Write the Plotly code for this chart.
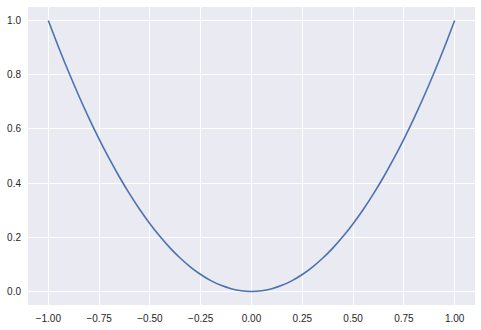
import plotly.graph_objects as go

x_vals = [-1.00, -0.95, -0.90, -0.85, -0.80, -0.75, -0.70, -0.65, -0.60, -0.55,
          -0.50, -0.45, -0.40, -0.35, -0.30, -0.25, -0.20, -0.15, -0.10, -0.05,
          0.00, 0.05, 0.10, 0.15, 0.20, 0.25, 0.30, 0.35, 0.40, 0.45,
          0.50, 0.55, 0.60, 0.65, 0.70, 0.75, 0.80, 0.85, 0.90, 0.95, 1.00]
y_vals = [1.000, 0.9025, 0.810, 0.7225, 0.640, 0.5625, 0.490, 0.4225, 0.360, 0.3025,
          0.250, 0.2025, 0.160, 0.1225, 0.090, 0.0625, 0.040, 0.0225, 0.010, 0.0025,
          0.000, 0.0025, 0.010, 0.0225, 0.040, 0.0625, 0.090, 0.1225, 0.160, 0.2025,
          0.250, 0.3025, 0.360, 0.4225, 0.490, 0.5625, 0.640, 0.7225, 0.810, 0.9025, 1.000]
x_ticks = [-1.00, -0.75, -0.50, -0.25, 0.00, 0.25, 0.50, 0.75, 1.00]
y_ticks = [0.0, 0.2, 0.4, 0.6, 0.8, 1.0]

fig = go.Figure()
fig.add_trace(go.Scatter(x=x_vals, y=y_vals, mode="lines", line_shape="spline",
                         line=dict(color="#4c72b0", width=1.6), showlegend=False))

axis_common = dict(showgrid=True, gridcolor="white", gridwidth=1, zeroline=False,
                   showline=False, ticks="", tickfont=dict(family="Liberation Sans, Arial, sans-serif",
                                                           size=10, color="#262626"))
fig.update_layout(
    width=481, height=330,
    margin=dict(l=28, r=6, t=7, b=25),
    paper_bgcolor="white", plot_bgcolor="#EAEAF2",
    xaxis=dict(range=[-1.1, 1.1], tickvals=x_ticks, tickformat=".2f", ticklabelstandoff=6, **axis_common),
    yaxis=dict(range=[-0.05, 1.05], tickvals=y_ticks, tickformat=".1f", ticklabelstandoff=6, **axis_common),
)
fig.write_html("out.html")
